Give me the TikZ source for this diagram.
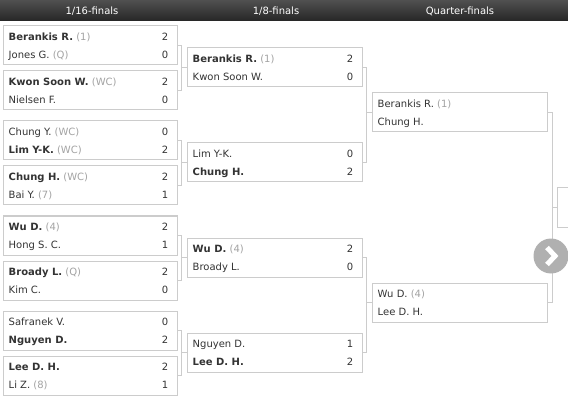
\documentclass[tikz,border=0pt]{standalone}
\usepackage{fontspec}
\setmainfont{DejaVu Sans}
\usepackage{tikz}
\usetikzlibrary{positioning,calc}
\definecolor{brkborder}{HTML}{CCCCCC}
\definecolor{brktext}{HTML}{333333}
\definecolor{brkseed}{HTML}{A3A3A3}
\definecolor{brkheadtop}{HTML}{505050}
\definecolor{brkheadbot}{HTML}{262626}
\definecolor{brkbutton}{HTML}{B0B0B0}
\newcommand{\sd}[1]{\textcolor{brkseed}{#1}}
\tikzset{
  tb/match/.style={
    draw=brkborder, line width=1pt, fill=white,
    minimum width=174pt, minimum height=39pt, inner sep=0pt
  },
  tb/name/.style={
    anchor=west, text=brktext, inner sep=0pt,
    font=\fontsize{10}{12}\selectfont, text height=7.3pt, text depth=0pt
  },
  tb/score/.style={tb/name, anchor=east},
  tb/head/.style={
    text=white, inner sep=0pt,
    font=\fontsize{10}{12}\selectfont, text height=7.3pt, text depth=0pt
  },
  tb/conn/.style={draw=brkborder, line width=1pt},
  tb/btn/.style={circle, fill=brkbutton, minimum size=35pt, inner sep=0pt}
}

\begin{document}
\begin{tikzpicture}[x=1pt, y=-1pt]
  \path[use as bounding box, clip] (0,0) rectangle (568,401);
  % header bar
  \shade[top color=brkheadtop, bottom color=brkheadbot] (0,0) rectangle (568,21);
  \node[tb/head] (h1) at (92,11) {1/16-finals};
  \node[tb/head] (h2) at (276,11) {1/8-finals};
  \node[tb/head] (h3) at (460,11) {Quarter-finals};

  % matches with scores
  \foreach \m/\x/\y/\w/\a/\sa/\b/\sb in {
    r1a/90/45.5/174/{\textbf{Berankis R.} \sd{(1)}}/2/{Jones G. \sd{(Q)}}/0,
    r1b/90/90.5/174/{\textbf{Kwon Soon W.} \sd{(WC)}}/2/{Nielsen F.}/0,
    r1c/90/140.5/174/{Chung Y. \sd{(WC)}}/0/{\textbf{Lim Y-K.} \sd{(WC)}}/2,
    r1d/90/185.5/174/{\textbf{Chung H.} \sd{(WC)}}/2/{Bai Y. \sd{(7)}}/1,
    r1e/90/235.5/174/{\textbf{Wu D.} \sd{(4)}}/2/{Hong S. C.}/1,
    r1f/90/280.5/174/{\textbf{Broady L.} \sd{(Q)}}/2/{Kim C.}/0,
    r1g/90/330.5/174/{Safranek V.}/0/{\textbf{Nguyen D.}}/2,
    r1h/90/375.5/174/{\textbf{Lee D. H.}}/2/{Li Z. \sd{(8)}}/1,
    r2a/274.5/67.5/175/{\textbf{Berankis R.} \sd{(1)}}/2/{Kwon Soon W.}/0,
    r2b/274.5/162.5/175/{Lim Y-K.}/0/{\textbf{Chung H.}}/2,
    r2c/274.5/257.5/175/{\textbf{Wu D.} \sd{(4)}}/2/{Broady L.}/0,
    r2d/274.5/352.5/175/{Nguyen D.}/1/{\textbf{Lee D. H.}}/2%
  }{
    \node[tb/match, minimum width=\w pt] (\m) at (\x,\y) {};
    \node[tb/name] (\m-p1) at ([shift={(6,-8.5)}]\m.west) {\a};
    \node[tb/name] (\m-p2) at ([shift={(6,9.5)}]\m.west) {\b};
    \node[tb/score] (\m-s1) at ([shift={(-9,-8.5)}]\m.east) {\sa};
    \node[tb/score] (\m-s2) at ([shift={(-9,9.5)}]\m.east) {\sb};
  }

  % quarter-finals, not played yet
  \foreach \m/\y/\a/\b in {
    r3a/112.5/{Berankis R. \sd{(1)}}/{Chung H.},
    r3b/302.5/{Wu D. \sd{(4)}}/{Lee D. H.}%
  }{
    \node[tb/match, minimum width=175pt] (\m) at (459.5,\y) {};
    \node[tb/name] (\m-p1) at ([shift={(6,-8.5)}]\m.west) {\a};
    \node[tb/name] (\m-p2) at ([shift={(6,9.5)}]\m.west) {\b};
  }
  \node[tb/match, minimum width=175pt] (fin) at (644.5,207.5) {};

  % brackets
  \foreach \p/\q/\t/\d in {r1a/r1b/r2a/4, r1c/r1d/r2b/4, r1e/r1f/r2c/4,
      r1g/r1h/r2d/4, r2a/r2b/r3a/4, r2c/r2d/r3b/4, r3a/r3b/fin/5}{
    \draw[tb/conn] (\p.east) -- ++(\d,0) coordinate (\t-j) |- (\q.east);
    \draw[tb/conn] (\t-j |- \t.west) -- (\t.west);
  }

  % next button
  \node[tb/btn] (next) at (551,256) {};
  \draw[white, line width=5pt]
    ([shift={(-4,-8.5)}]next.center) -- ([shift={(4,0)}]next.center)
    -- ([shift={(-4,8.5)}]next.center);
\end{tikzpicture}
\end{document}
